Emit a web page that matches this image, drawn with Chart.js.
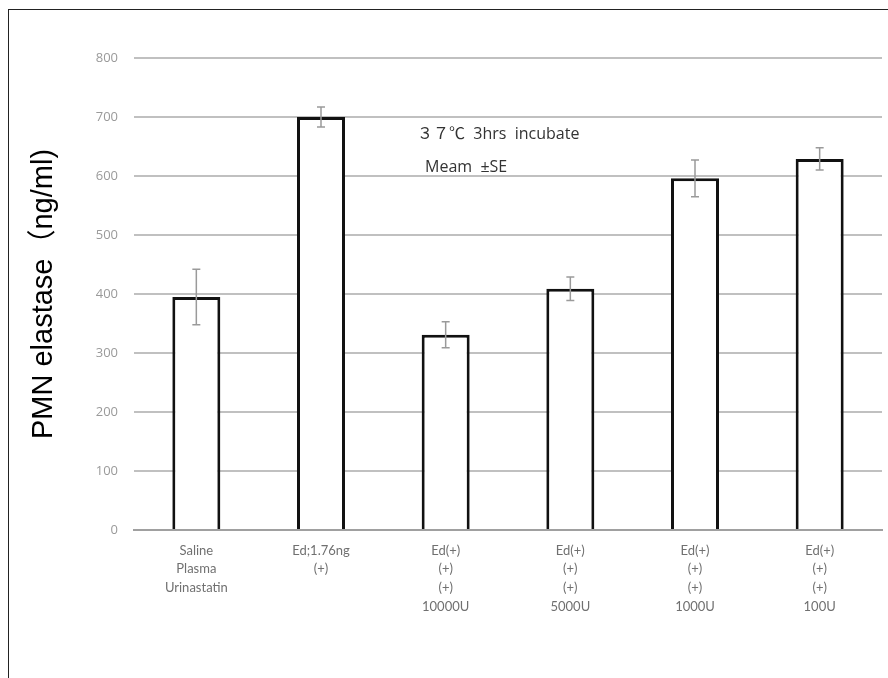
<!DOCTYPE html>
<html>
<head>
<meta charset="utf-8">
<script src="https://cdn.jsdelivr.net/npm/chart.js@4/dist/chart.umd.min.js"></script>
<style>
  html, body { margin: 0; padding: 0; background: #fff; }
  #wrap { position: relative; width: 888px; height: 678px; }
  #frame { position: absolute; left: 8px; top: 9px; right: 0; bottom: 0;
           border-left: 1.5px solid #222; border-top: 1.5px solid #222; pointer-events: none; }
</style>
</head>
<body>
<div id="wrap">
  <canvas id="myChart" width="888" height="678"></canvas>
  <div id="frame"></div>
</div>
<script>
  var labels = [
    ['Saline', 'Plasma', 'Urinastatin'],
    ['Ed;1.76ng', '(+)'],
    ['Ed(+)', '(+)', '(+)', '10000U'],
    ['Ed(+)', '(+)', '(+)', '5000U'],
    ['Ed(+)', '(+)', '(+)', '1000U'],
    ['Ed(+)', '(+)', '(+)', '100U']
  ];
  var means = [395, 700, 331, 409, 596, 629];
  var errors = [47, 17, 22, 20, 31, 19];
  var notes = ['３７℃  3hrs  incubate', 'Meam  ±SE'];

  // error bars, drawn from the data through the scales
  var errorBars = {
    id: 'errorBars',
    afterDatasetsDraw: function (chart) {
      var c = chart.ctx, x = chart.scales.x, y = chart.scales.y;
      c.save();
      c.strokeStyle = '#9a9a9a';
      c.lineWidth = 1.5;
      means.forEach(function (m, i) {
        var px = x.getPixelForValue(i);
        var top = y.getPixelForValue(m + errors[i]);
        var bot = y.getPixelForValue(m - errors[i]);
        c.beginPath();
        c.moveTo(px, top); c.lineTo(px, bot);
        c.moveTo(px - 4, top); c.lineTo(px + 4, top);
        c.moveTo(px - 4, bot); c.lineTo(px + 4, bot);
        c.stroke();
      });
      c.fillStyle = '#333';
      c.textBaseline = 'middle';
      c.font = '16px "Open Sans", "Noto Sans CJK JP", sans-serif';
      c.fillText(notes[0], 417, 134);
      c.font = '16px "Open Sans", "Noto Sans CJK JP", sans-serif';
      c.fillText(notes[1], 425, 167);
      c.restore();
    }
  };

  var ctx = document.getElementById('myChart');

  new Chart(ctx, {
    type: 'bar',
    data: {
      labels: labels,
      datasets: [{
        label: 'PMN elastase',
        data: means,
        backgroundColor: '#ffffff',
        borderColor: '#111111',
        borderWidth: 3,
        categoryPercentage: 1,
        barPercentage: 0.385
      }]
    },
    options: {
      responsive: false,
      animation: false,
      layout: { padding: { left: 0, right: 6, top: 58, bottom: 0 } },
      plugins: { legend: { display: false }, tooltip: { enabled: false } },
      scales: {
        x: {
          grid: { display: false },
          border: { display: true, color: '#a0a0a0', width: 2 },
          ticks: {
            color: '#707070',
            padding: 3,
            maxRotation: 0,
            autoSkip: false,
            font: { family: 'Lato, "Open Sans", sans-serif', size: 13, lineHeight: 1.45 }
          },
          afterFit: function (s) { s.height = 148; }
        },
        y: {
          min: 0,
          max: 800,
          ticks: {
            stepSize: 100,
            color: '#9a9a9a',
            padding: 16,
            font: { family: '"Open Sans", sans-serif', size: 13 }
          },
          grid: { color: '#c0c0c0', lineWidth: 2, drawTicks: false },
          border: { display: false },
          title: {
            display: true,
            text: 'PMN elastase（ng/ml)',
            color: '#000',
            padding: { top: 27, bottom: 0 },
            font: { family: '"Liberation Sans", Arial, "Noto Sans CJK JP", sans-serif', size: 29 }
          },
          afterFit: function (s) { s.width = 134; }
        }
      }
    },
    plugins: [errorBars]
  });
</script>
</body>
</html>
